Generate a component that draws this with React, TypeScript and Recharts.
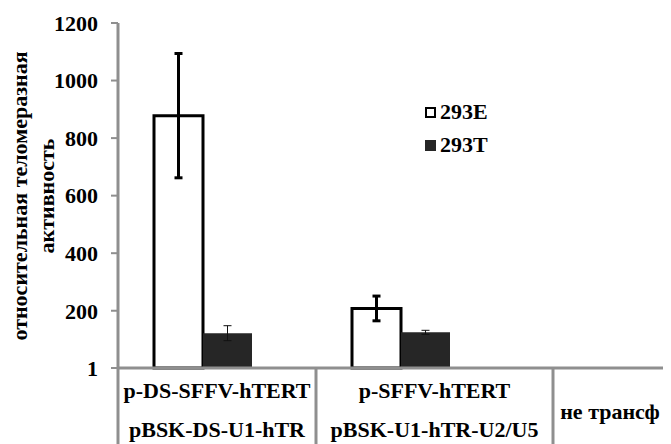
import React from "react";
import { Bar, BarChart, ErrorBar, Legend, XAxis, YAxis } from "recharts";

const groupTop = ["p-DS-SFFV-hTERT", "p-SFFV-hTERT", "не трансф"];
const groupBottom = ["pBSK-DS-U1-hTR", "pBSK-U1-hTR-U2/U5", ""];
const e293 = [878, 208, null];
const e293Err = [216, 43, null];
const t293 = [122, 125, null];
const t293Err = [26, 7, null];
const yTicks = [1, 200, 400, 600, 800, 1000, 1200];
const seriesNames = ["293E", "293T"];
const yTitle = ["относительная теломеразная", "активность"];

const data = groupTop.map((top, i) => ({
  top,
  bottom: groupBottom[i],
  e: e293[i],
  eErr: e293Err[i],
  t: t293[i],
  tErr: t293Err[i],
}));

const FONT = "'Liberation Serif', 'Times New Roman', serif";
const GRAY = "#8f8f8f";
const DARK = "#262626";
// label table under the axis: cell edges in chart px
const CELL_EDGES = [110, 308, 545, 659];

function TableTick(props: any) {
  const { y, payload } = props;
  const i = payload?.index ?? props.index ?? 0;
  const left = CELL_EDGES[i];
  const cx = (left + CELL_EDGES[i + 1]) / 2;
  const bottom = groupBottom[i];
  const textStyle = { fontFamily: FONT, fontWeight: 700, fontSize: 22, fill: "#000" };
  return (
    <g>
      <line x1={left} x2={left} y1={y} y2={y + 80} stroke={GRAY} strokeWidth={3} />
      {bottom ? (
        <>
          <text x={cx} y={y + 30} textAnchor="middle" style={textStyle}>
            {payload.value}
          </text>
          <text x={cx} y={y + 69} textAnchor="middle" style={textStyle}>
            {bottom}
          </text>
        </>
      ) : (
        <text x={cx} y={y + 51} textAnchor="middle" style={textStyle}>
          {payload.value}
        </text>
      )}
    </g>
  );
}

function YTitle() {
  const style = { fontFamily: FONT, fontWeight: 700, fontSize: 22, fill: "#000" };
  return (
    <g>
      <text transform="rotate(-90)" x={-188} y={19} textAnchor="middle" style={style}>
        {yTitle[0]}
      </text>
      <text transform="rotate(-90)" x={-188} y={46} textAnchor="middle" style={style}>
        {yTitle[1]}
      </text>
    </g>
  );
}

function LegendBox() {
  const swatches = [
    { background: "#fff", border: "2.5px solid #000" },
    { background: DARK, border: "none" },
  ];
  return (
    <div style={{ fontFamily: FONT, fontWeight: 700, fontSize: 22, color: "#000" }}>
      {seriesNames.map((name, i) => (
        <div key={name} style={{ display: "flex", alignItems: "center", height: 24, marginBottom: 9 }}>
          <span
            style={{
              display: "inline-block",
              width: 11,
              height: 11,
              boxSizing: "border-box",
              ...swatches[i],
            }}
          />
          <span style={{ marginLeft: 4, lineHeight: "24px" }}>{name}</span>
        </div>
      ))}
    </div>
  );
}

export default function App() {
  return (
    <div style={{ width: 663, height: 436, overflow: "hidden", background: "#fff" }}>
      <BarChart
        width={690}
        height={436}
        data={data}
        margin={{ top: 15, right: 0, left: 0, bottom: 0 }}
        barGap={0}
      >
        <XAxis
          dataKey="top"
          type="category"
          height={76}
          interval={0}
          padding={{ left: -14, right: 0 }}
          axisLine={{ stroke: GRAY, strokeWidth: 3 }}
          tickLine={false}
          tickSize={0}
          tickMargin={0}
          tick={<TableTick />}
        />
        <YAxis
          width={110}
          domain={[1, 1200]}
          ticks={yTicks}
          interval={0}
          axisLine={{ stroke: GRAY, strokeWidth: 3 }}
          tickLine={{ stroke: GRAY, strokeWidth: 2 }}
          tickSize={7}
          tickMargin={13}
          tick={{ fontFamily: FONT, fontWeight: 700, fontSize: 22, fill: "#000" }}
          label={{ content: () => <YTitle /> }}
        />
        <Legend
          layout="vertical"
          align="center"
          verticalAlign="middle"
          wrapperStyle={{ left: 417, top: 92, width: "auto" }}
          content={() => <LegendBox />}
        />
        <Bar dataKey="e" name={seriesNames[0]} fill="#fff" stroke="#000" strokeWidth={3} barSize={49} isAnimationActive={false}>
          <ErrorBar dataKey="eErr" direction="y" width={4} stroke="#000" strokeWidth={3} />
        </Bar>
        <Bar dataKey="t" name={seriesNames[1]} fill={DARK} barSize={49} isAnimationActive={false}>
          <ErrorBar dataKey="tErr" direction="y" width={4} stroke="#111" strokeWidth={1} />
        </Bar>
      </BarChart>
    </div>
  );
}
